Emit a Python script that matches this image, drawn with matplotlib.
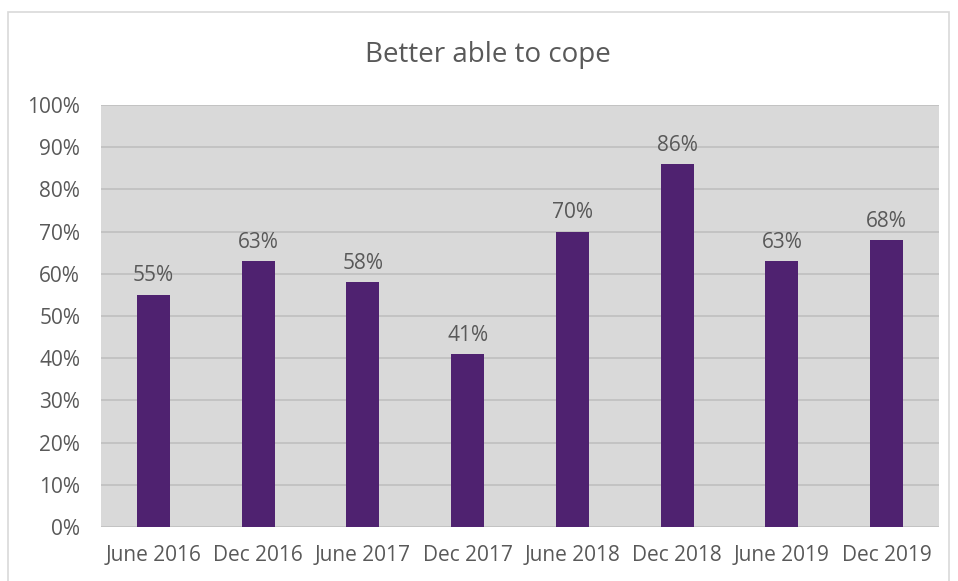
import matplotlib.pyplot as plt
from matplotlib.patches import Rectangle

periods = ["June 2016", "Dec 2016", "June 2017", "Dec 2017",
           "June 2018", "Dec 2018", "June 2019", "Dec 2019"]
cope_pct = [55, 63, 58, 41, 70, 86, 63, 68]
y_ticks = list(range(0, 101, 10))

text_color = "#595959"
plt.rcParams['font.family'] = ['Open Sans', 'DejaVu Sans']

fig = plt.figure(figsize=(9.58, 5.81), dpi=100)
W, H = 958, 581

# light frame around the chart
fig.add_artist(Rectangle((8 / W, -0.05), 941 / W, 1.05 - 12 / H,
                         transform=fig.transFigure, fill=False,
                         edgecolor="#D9D9D9", linewidth=1.2))

ax = fig.add_axes([101 / W, 1 - 527 / H, (939 - 101) / W, (527 - 105) / H])
ax.set_facecolor("#D9D9D9")

x = range(len(periods))
bars = ax.bar(x, cope_pct, width=0.315, color="#4F2270", zorder=3)
for xi, v in zip(x, cope_pct):
    ax.text(xi, v + 2.0, f"{v}%", ha="center", va="bottom",
            fontsize=15, color=text_color)

ax.set_xlim(-0.5, len(periods) - 0.5)
ax.set_ylim(0, 100)
ax.set_yticks(y_ticks)
ax.set_yticklabels([f"{t}%" for t in y_ticks])
ax.set_xticks(list(x))
ax.set_xticklabels(periods)
ax.tick_params(length=0, labelsize=15, colors=text_color)
ax.tick_params(axis="y", pad=15)
ax.tick_params(axis="x", pad=13)
ax.grid(axis="y", color="#BFBFBF", linewidth=1.2, zorder=0)
for s in ax.spines.values():
    s.set_visible(False)

fig.text(488 / W, 1 - 55 / H, "Better able to cope", ha="center", va="center",
         fontsize=20, color=text_color)

fig.savefig("out.png", dpi=100)
